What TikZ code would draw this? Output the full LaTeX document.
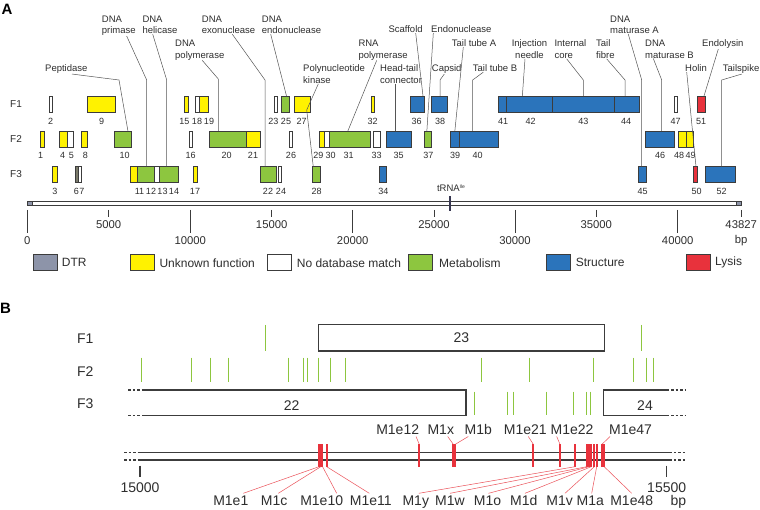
\documentclass[tikz,border=0pt]{standalone}
\usepackage{fontspec}
\setmainfont{Liberation Sans}
\definecolor{cyel}{HTML}{FFF200}
\definecolor{cgrn}{HTML}{8DC63F}
\definecolor{cblu}{HTML}{2B74BB}
\definecolor{cred}{HTML}{E8323C}
\definecolor{cdtr}{HTML}{8D94A9}
\definecolor{cgry}{HTML}{7A7A6A}
\definecolor{cbrd}{HTML}{3C3C3C}
\definecolor{clead}{HTML}{555555}
\definecolor{cwht}{HTML}{FFFFFF}
\definecolor{ctxt}{HTML}{2E2E2E}
\begin{document}
\begin{tikzpicture}[x=1pt,y=-1pt,
  gene/.style={draw=cbrd,line width=0.8pt,inner sep=0pt,outer sep=0pt,minimum height=16pt},
  num/.style={inner sep=0pt,font=\fontsize{9}{11}\selectfont,text=ctxt},
  lab/.style={inner sep=0pt,font=\fontsize{9.5}{11.7}\selectfont,align=left,anchor=north west,text=ctxt},
  labc/.style={lab,align=center,anchor=north},
  lead/.style={draw=clead,line width=0.5pt},
  tick/.style={draw=cbrd,line width=0.8pt},
  tlab/.style={inner sep=0pt,font=\fontsize{11.3}{13}\selectfont,text=ctxt},
  legt/.style={inner sep=0pt,font=\fontsize{12}{14}\selectfont,anchor=west,text=ctxt},
  rowl/.style={inner sep=0pt,font=\fontsize{10}{12}\selectfont,text=ctxt},
  bl/.style={inner sep=0pt,font=\fontsize{14}{16}\selectfont,text height=10pt,text depth=0pt,text=ctxt},
  gln/.style={draw=cgrn,line width=1pt},
  bline/.style={draw=cbrd,line width=1.1pt},
  bdash/.style={draw=cbrd,line width=1.1pt,dash pattern=on 2.5pt off 2pt},
  rmk/.style={fill=cred,inner sep=0pt,outer sep=0pt,minimum width=1.7pt,minimum height=22.4pt},
  rlead/.style={draw=cred!85,line width=0.5pt}
]
\useasboundingbox (0,0) rectangle (760,510);
\fill[white] (0,0) rectangle (760,510);

% panel letters
\node[inner sep=0pt,font=\bfseries\fontsize{15}{15}\selectfont] (pA) at (7,9) {A};
\node[inner sep=0pt,font=\bfseries\fontsize{15}{15}\selectfont] (pB) at (5.5,308.5) {B};

% row labels
\node[rowl] (rF1) at (16,104) {F1};
\node[rowl] (rF2) at (16,139) {F2};
\node[rowl] (rF3) at (16,174.5) {F3};

% genes
\foreach \n/\a/\b/\y/\c in {
2/49.3/52.7/104/cwht, 9/87.3/115.7/104/cyel, 15/184/188.3/104/cyel, 18/195.3/199.7/104/cwht, 19/199.7/208.7/104/cyel, 23/274.3/277.3/104/cwht, 25/281.7/289.3/104/cgrn, 27/294.3/310/104/cyel, 32/371/374/104/cyel, 36/410/424/104/cblu, 38/431/447.3/104/cblu, 41/498.3/506/104/cblu, 42/506/552.7/104/cblu, 43/552.7/614.3/104/cblu, 44/614.3/639/104/cblu, 47/674.7/677.3/104/cwht, 51/697.3/705.7/104/cred,
1/40.7/44/139/cyel, 4/59.3/67.7/139/cyel, 5/67.7/73.3/139/cwht, 8/81.7/87.7/139/cyel, 10/114.3/131/139/cgrn, 16/189/192.7/139/cwht, 20/209/246/139/cgrn, 21/246/260/139/cyel, 26/289.3/292.7/139/cwht, 29/319/324.7/139/cyel, 30/324.7/329/139/cwht, 31/329/370.7/139/cgrn, 33/373.3/380/139/cwht, 35/386/411/139/cblu, 37/424/431.7/139/cgrn, 39/450.7/459/139/cblu, 40/459/498.7/139/cblu, 46/645.7/674.7/139/cblu, 48/678.3/686/139/cyel, 49/686/693.3/139/cyel,
3/52.7/57.3/174.5/cyel, 6/75.3/78/174.5/cgry, 7/78/81.7/174.5/cwht, 11/130/137.7/174.5/cyel, 12/137.7/154/174.5/cgrn, 13/154/159.3/174.5/cwht, 14/159.3/178.3/174.5/cgrn, 17/193.3/197/174.5/cyel, 22/260/276/174.5/cgrn, 24/278.3/281.7/174.5/cwht, 28/312.3/320/174.5/cgrn, 34/379.3/386/174.5/cblu, 45/638.3/646/174.5/cblu, 50/693.3/697.7/174.5/cred, 52/705/735/174.5/cblu}{
  \pgfmathsetmacro\gw{\b-\a}
  \pgfmathsetmacro\gx{(\a+\b)/2}
  \node[gene,fill=\c,minimum width=\gw pt] (g\n) at (\gx,\y) {};
}

% gene numbers
\foreach \n/\x in {2/50.7,9/101.7,15/184.3,18/197,19/209,23/273.3,25/286,27/301.7,32/372.7,36/416.7,38/440,41/503,42/530.7,43/583.3,44/626,47/675.7,51/701}
  \node[num] (n\n) at (\x,121.7) {\n};
\foreach \n/\x in {1/40.7,4/62.7,5/71.3,8/85.3,10/124.7,16/190.7,20/226.7,21/253,26/291,29/318.3,30/330.7,31/348.7,33/376.7,35/398.7,37/428.3,39/455,40/477.7,46/660,48/679,49/690.7}
  \node[num] (n\n) at (\x,155.7) {\n};
\foreach \n/\x in {3/55,6/76.3,7/82,11/139.5,12/151,13/162.5,14/174,17/195,22/268,24/281,28/316.7,34/383.3,45/642.7,50/696.7,52/721.7}
  \node[num] (n\n) at (\x,191.7) {\n};

% function labels
\node[lab] (lPep) at (45,64.8) {Peptidase};
\node[lab] (lPri) at (101.7,15.5) {DNA\\primase};
\node[lab] (lHel) at (142.3,15.5) {DNA\\helicase};
\node[lab] (lPol) at (175,39.8) {DNA\\polymerase};
\node[lab] (lExo) at (201.7,15.5) {DNA\\exonuclease};
\node[lab] (lEndo) at (261.7,15.5) {DNA\\endonuclease};
\node[lab] (lKin) at (303,64.8) {Polynucleotide\\kinase};
\node[lab] (lRNA) at (358.3,39.8) {RNA\\polymerase};
\node[lab] (lHT) at (380,64.8) {Head-tail\\connector};
\node[lab] (lSca) at (388.3,25.8) {Scaffold};
\node[lab] (lEnd2) at (431,25.8) {Endonuclease};
\node[lab] (lCap) at (431.7,64.8) {Capsid};
\node[lab] (lTTA) at (451.7,39.8) {Tail tube A};
\node[lab] (lTTB) at (472.7,64.8) {Tail tube B};
\node[labc] (lInj) at (529.5,39.8) {Injection\\needle};
\node[lab] (lInt) at (554.3,39.8) {Internal\\core};
\node[lab] (lFib) at (596,39.8) {Tail\\fibre};
\node[lab] (lMatA) at (610,15.5) {DNA\\maturase A};
\node[lab] (lMatB) at (645,39.8) {DNA\\maturase B};
\node[lab] (lHol) at (685,64.8) {Holin};
\node[lab] (lEly) at (702,39.8) {Endolysin};
\node[lab] (lTsp) at (722.7,64.8) {Tailspike};

% leaders
\draw[lead] ([xshift=27pt]lPep.south west) -- (119,80) -- ([xshift=5.3pt]g10.north);
\draw[lead] ([xshift=25pt]lPri.south west) -- (146.7,80) -- ([xshift=0.85pt]g12.north);
\draw[lead] ([xshift=10.4pt]lHel.south west) -- (166.7,80) -- ([xshift=-2.1pt]g14.north);
\draw[lead] ([xshift=27.3pt]lPol.south west) -- (218.3,79) -- ([xshift=-9.2pt]g20.north);
\draw[lead] ([xshift=30.6pt]lExo.south west) -- (265,80) -- ([xshift=-3pt]g22.north);
\draw[lead] ([xshift=9pt]lEndo.south west) -- ([xshift=1pt]g25.north);
\draw[lead] ([xshift=15.3pt]lKin.south west) -- (306.7,110) -- ([xshift=-2.9pt]g28.north);
\draw[lead] ([xshift=18.4pt]lRNA.south west) -- ([xshift=-2pt]g31.north);
\draw[lead] ([xshift=15.7pt]lHT.south west) -- ([xshift=-2.8pt]g35.north);
\draw[lead] ([xshift=27.4pt]lSca.south west) -- ([xshift=6pt]g36.north);
\draw[lead] ([xshift=2.3pt]lEnd2.south west) -- ([xshift=-1pt]g37.north);
\draw[lead] ([xshift=12.6pt]lCap.south west) -- (440,80) -- ([xshift=0.85pt]g38.north);
\draw[lead] ([xshift=11.6pt]lTTA.south west) -- (g39.north);
\draw[lead] ([xshift=10.6pt]lTTB.south west) -- (472.7,80) -- ([xshift=-6.15pt]g40.north);
\draw[lead] ([xshift=-4.5pt]lInj.south) -- ([xshift=-7pt]g42.north);
\draw[lead] ([xshift=12.4pt]lInt.south west) -- (583.3,80) -- ([xshift=-0.2pt]g43.north);
\draw[lead] ([xshift=10.7pt]lFib.south west) -- (625,80) -- ([xshift=-1.65pt]g44.north);
\draw[lead] ([xshift=18.3pt]lMatA.south west) -- (641.7,80) -- ([xshift=-0.45pt]g45.north);
\draw[lead] ([xshift=8.3pt]lMatB.south west) -- (661.7,80) -- ([xshift=1.5pt]g46.north);
\draw[lead] ([xshift=1.7pt]lHol.south west) -- ([xshift=0.5pt]g50.north);
\draw[lead] ([xshift=16.3pt]lEly.south west) -- ([xshift=2.5pt]g51.north);
\draw[lead] ([xshift=19pt]lTsp.south west) -- (721.7,80) -- ([xshift=1.7pt]g52.north);

% genome bar
\node[draw=cbrd,line width=0.7pt,fill=white,inner sep=0pt,minimum width=713.7pt,minimum height=4.7pt] (bar) at (384.15,203.4) {};
\node[gene,fill=cdtr,minimum width=5pt,minimum height=4.7pt] (dtrL) at (29.8,203.4) {};
\node[gene,fill=cdtr,minimum width=5pt,minimum height=4.7pt] (dtrR) at (738.7,203.4) {};
\node[fill=cbrd!90!blue,inner sep=0pt,minimum width=2.6pt,minimum height=15pt] (trna) at (450,203.5) {};
\node[inner sep=0pt,font=\fontsize{9.5}{11}\selectfont,text=ctxt] (trnal) at (451,188) {tRNA\raisebox{3pt}{\fontsize{5}{6}\selectfont Ile}};

% ticks
\foreach \x in {108.7,271.7,434,596.3,741.7} \draw[tick] (\x,210) -- (\x,217);
\foreach \x in {27.3,190.3,352.7,515,677.7} \draw[tick] (\x,210) -- (\x,233);
\node[tlab] (k0) at (27.3,241) {0};
\node[tlab] (k5) at (108.7,225) {5000};
\node[tlab] (k10) at (190.3,241) {10000};
\node[tlab] (k15) at (271.7,225) {15000};
\node[tlab] (k20) at (352.7,241) {20000};
\node[tlab] (k25) at (434,225) {25000};
\node[tlab] (k30) at (515,241) {30000};
\node[tlab] (k35) at (596.3,225) {35000};
\node[tlab] (k40) at (677.7,241) {40000};
\node[tlab] (k43) at (741.2,225) {43827};
\node[tlab] (kbp) at (741.2,241) {bp};

% legend
\node[gene,fill=cdtr,minimum width=24pt] (lg1) at (45,262.8) {};
\node[legt] (lt1) at (61.7,262.8) {DTR};
\node[gene,fill=cyel,minimum width=24pt] (lg2) at (142,262.8) {};
\node[legt] (lt2) at (159.3,262.8) {Unknown function};
\node[gene,fill=cwht,minimum width=24pt] (lg3) at (279.7,262.8) {};
\node[legt] (lt3) at (296.7,262.8) {No database match};
\node[gene,fill=cgrn,minimum width=24pt] (lg4) at (420.3,262.8) {};
\node[legt] (lt4) at (439,262.8) {Metabolism};
\node[gene,fill=cblu,minimum width=24pt] (lg5) at (558.7,262.8) {};
\node[legt] (lt5) at (575.7,262.8) {Structure};
\node[gene,fill=cred,minimum width=24pt] (lg6) at (698,262.8) {};
\node[legt] (lt6) at (715,262.8) {Lysis};

% ---------- panel B ----------
\node[bl,anchor=base] (bF1) at (85.3,343.3) {F1};
\node[bl,anchor=base] (bF2) at (85.3,376.7) {F2};
\node[bl,anchor=base] (bF3) at (85.3,408.3) {F3};

\node[draw=cbrd,line width=1.1pt,inner sep=0pt,minimum width=286pt,minimum height=26.7pt,font=\fontsize{14}{16}\selectfont,text=ctxt] (b23) at (461.3,337.65) {23};
\foreach \x in {265.7,641.7} \draw[gln] (\x,325) -- (\x,350.7);
\foreach \x in {141.7,191,210.7,228.3,288,303.3,307.7,318,330.3,345.3,481.7,529,593.7,633.3,646.7,653.3} \draw[gln] (\x,357.7) -- (\x,382.3);
\foreach \x in {474.5,507,513.7,546.7,573.7,586.3,590.8} \draw[gln] (\x,391.7) -- (\x,415);

\draw[bdash] (128.3,390) -- (141.7,390);
\draw[bdash] (128.3,415.7) -- (141.7,415.7);
\draw[bline] (141.7,390) -- (466,390) -- (466,415.7) -- (141.7,415.7);
\node[bl,anchor=base] (t22) at (291.7,410) {22};
\draw[bdash] (666.7,390) -- (685,390);
\draw[bdash] (666.7,415.7) -- (685,415.7);
\draw[bline] (666.7,390) -- (603.3,390) -- (603.3,415.7) -- (666.7,415.7);
\node[bl,anchor=base] (t24) at (645,410) {24};

% double line
\draw[bline] (138.3,452.3) -- (669.3,452.3);
\draw[bline] (138.3,460) -- (669.3,460);
\draw[bdash] (124,452.3) -- (138.3,452.3);
\draw[bdash] (124,460) -- (138.3,460);
\draw[bdash] (669.3,452.3) -- (685,452.3);
\draw[bdash] (669.3,460) -- (685,460);
\draw[bline] (140,465.7) -- (140,477.3);
\draw[bline] (666.7,465.7) -- (666.7,477.3);
\node[bl,anchor=base] (s1) at (140,492.3) {15000};
\node[bl,anchor=base] (s2) at (666.7,492.3) {15500};
\node[bl,anchor=base] (s3) at (678.3,505) {bp};

% red marks
\foreach \i/\x in {1/319,2/320.8,3/322.6,4/326.7,5/419.3,6/453.3,7/455.3,8/533.3,9/560,10/575,11/586.7,12/589,13/591.3,14/594.3,15/596.7,16/602,17/604.2}
  \node[rmk] (r\i) at (\x,455.5) {};

% upper mutant labels
\node[bl,anchor=base] (mE12) at (397.7,434.3) {M1e12};
\node[bl,anchor=base] (mX) at (440.8,434.3) {M1x};
\node[bl,anchor=base] (mB) at (478.3,434.3) {M1b};
\node[bl,anchor=base] (mE21) at (525.3,434.3) {M1e21};
\node[bl,anchor=base] (mE22) at (572,434.3) {M1e22};
\node[bl,anchor=base] (mE47) at (630.5,434.3) {M1e47};
\draw[rlead] ([xshift=18.3pt,yshift=-2pt]mE12.south) -- (r5.north);
\draw[rlead] ([xshift=6.9pt,yshift=-2pt]mX.south) -- (r6.north);
\draw[rlead] ([xshift=-10pt,yshift=-2pt]mB.south) -- (r7.north);
\draw[rlead] ([xshift=3pt,yshift=-2pt]mE21.south) -- (r8.north);
\draw[rlead] ([xshift=-15.3pt,yshift=-2pt]mE22.south) -- (r9.north);
\draw[rlead] ([xshift=-20.5pt,yshift=-2pt]mE47.south) -- (r16.north);

% lower mutant labels
\node[bl,anchor=base] (mE1) at (230.8,505) {M1e1};
\node[bl,anchor=base] (mC) at (274.2,505) {M1c};
\node[bl,anchor=base] (mE10) at (321.7,505) {M1e10};
\node[bl,anchor=base] (mE11) at (370.8,505) {M1e11};
\node[bl,anchor=base] (mY) at (415.8,505) {M1y};
\node[bl,anchor=base] (mW) at (450,505) {M1w};
\node[bl,anchor=base] (mO) at (487.5,505) {M1o};
\node[bl,anchor=base] (mD) at (523.7,505) {M1d};
\node[bl,anchor=base] (mV) at (559.7,505) {M1v};
\node[bl,anchor=base] (mA) at (590.3,505) {M1a};
\node[bl,anchor=base] (mE48) at (631.7,505) {M1e48};
\draw[rlead] ([xshift=12.5pt,yshift=1.5pt]mE1.north) -- (r1.south);
\draw[rlead] ([xshift=4.1pt,yshift=1.5pt]mC.north) -- (r2.south);
\draw[rlead] ([xshift=15pt,yshift=1.5pt]mE10.north) -- (r3.south);
\draw[rlead] ([xshift=-1.5pt,yshift=1.5pt]mE11.north) -- (r4.south);
\draw[rlead] ([xshift=3pt,yshift=1.5pt]mY.north) -- (r10.south);
\draw[rlead] ([xshift=0pt,yshift=1.5pt]mW.north) -- (r11.south);
\draw[rlead] ([xshift=1pt,yshift=1.5pt]mO.north) -- (r12.south);
\draw[rlead] ([xshift=1.3pt,yshift=1.5pt]mD.north) -- (r13.south);
\draw[rlead] ([xshift=5.3pt,yshift=1.5pt]mV.north) -- (r14.south);
\draw[rlead] ([xshift=1.4pt,yshift=1.5pt]mA.north) -- (r15.south);
\draw[rlead] ([xshift=0pt,yshift=1.5pt]mE48.north) -- (r17.south);
\end{tikzpicture}
\end{document}
